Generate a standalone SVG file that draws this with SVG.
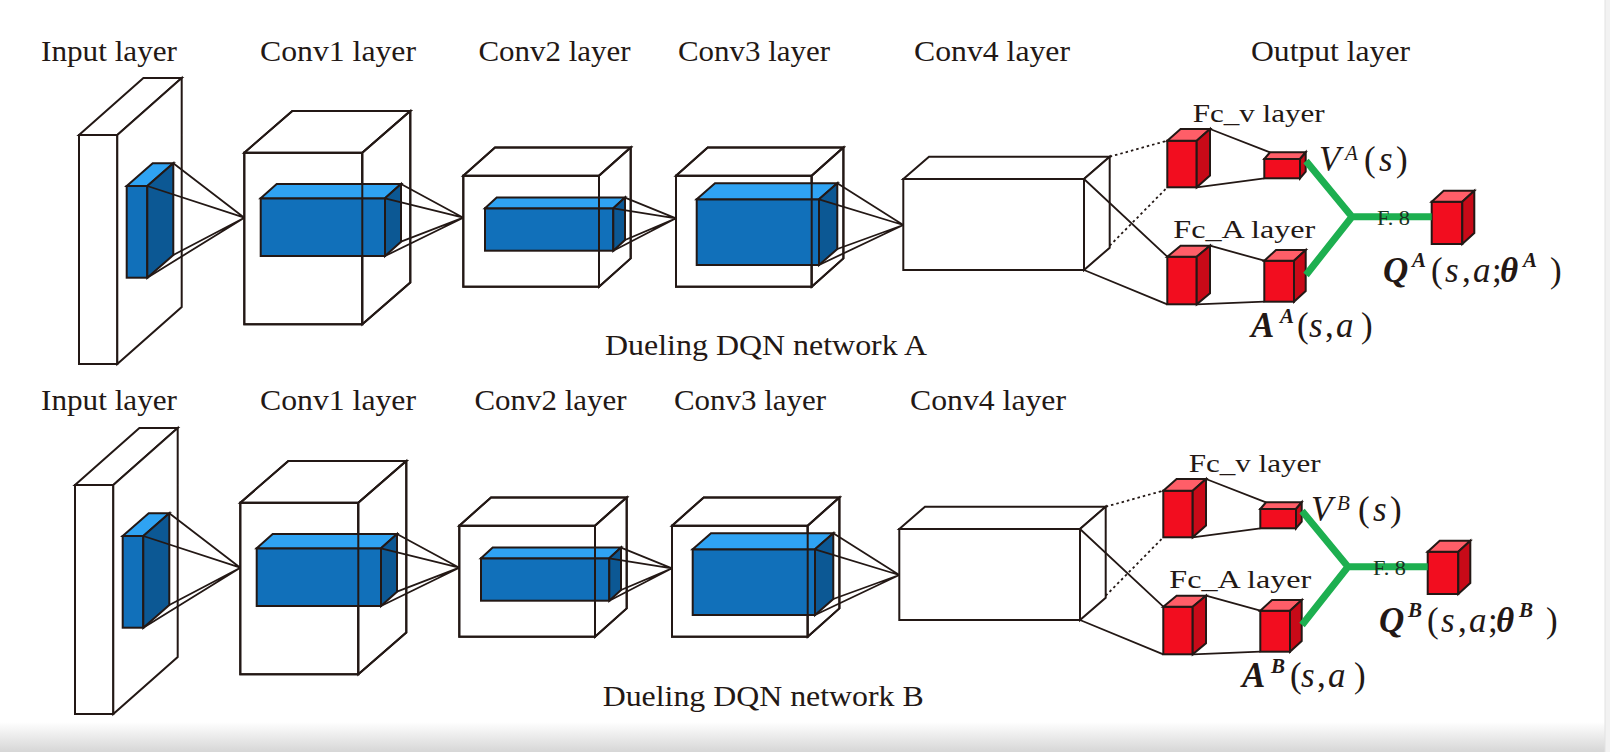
<svg xmlns="http://www.w3.org/2000/svg" width="1610" height="752" viewBox="0 0 1610 752">
<style>
.wf{fill:#fff;stroke:#231815;stroke-width:2;stroke-linejoin:miter}
.ed{fill:none;stroke:#231815;stroke-width:2;stroke-linejoin:miter}
.ln{fill:none;stroke:#231815;stroke-width:1.8}
.dt{fill:none;stroke:#231815;stroke-width:1.8;stroke-dasharray:2.5 3}
.bf{fill:#1170BA;stroke:#231815;stroke-width:2}
.bt{fill:#2FA3F3;stroke:#231815;stroke-width:2}
.bs{fill:#0C5894;stroke:#231815;stroke-width:2}
.rf{fill:#F20D1F;stroke:#231815;stroke-width:2}
.rt{fill:#FF5E68;stroke:#231815;stroke-width:2}
.rs{fill:#C80A18;stroke:#231815;stroke-width:2}
.gr{fill:none;stroke:#1DAF50;stroke-width:7;stroke-linejoin:miter}
.t{font-family:"Liberation Serif","Times New Roman",serif;fill:#231815}
.lb{font-size:29px}
.fc{font-size:25px}
.m{font-size:35px}
.sp{font-size:21px}
.i{font-style:italic}
.bi{font-style:italic;font-weight:bold}
.f8{font-family:"Liberation Serif","Times New Roman",serif;font-size:20px;fill:#1A3322}
</style>
<defs>
<linearGradient id="shade" x1="0" y1="0" x2="0" y2="1">
<stop offset="0" stop-color="#ffffff"/>
<stop offset="1" stop-color="#d6d6d6"/>
</linearGradient>
</defs>
<rect x="0" y="0" width="1610" height="752" fill="#ffffff"/>
<rect x="0" y="722" width="1605" height="30" fill="url(#shade)"/>
<rect x="1605" y="0" width="5" height="752" fill="#f2f2f2"/>
<line x1="1605" y1="0" x2="1605" y2="752" stroke="#e2e2e2" stroke-width="1"/>

<!-- ================= NETWORK A ================= -->
<g id="netA">
  <g id="A-labels" class="t lb">
    <text x="41" y="60.5" textLength="136" lengthAdjust="spacingAndGlyphs">Input layer</text>
    <text x="260" y="60.5" textLength="156" lengthAdjust="spacingAndGlyphs">Conv1 layer</text>
    <text x="478.5" y="60.5" textLength="152" lengthAdjust="spacingAndGlyphs">Conv2 layer</text>
    <text x="678" y="60.5" textLength="152" lengthAdjust="spacingAndGlyphs">Conv3 layer</text>
    <text x="914" y="60.5" textLength="156" lengthAdjust="spacingAndGlyphs">Conv4 layer</text>
    <text x="1251" y="60.5" textLength="159" lengthAdjust="spacingAndGlyphs">Output layer</text>
  </g>
  <g id="A-input">
    <rect class="wf" x="79" y="135" width="38.3" height="229"/>
    <polygon class="wf" points="79,135 143.4,78 181.7,78 117.3,135"/>
    <polygon class="wf" points="117.3,135 181.7,78 181.7,307 117.3,364"/>
    <rect class="bf" x="126.7" y="186" width="20.6" height="91.7"/>
    <polygon class="bt" points="126.7,186 152.7,163.3 173.3,163.3 147.3,186"/>
    <polygon class="bs" points="147.3,186 173.3,163.3 173.3,255 147.3,277.7"/>
  </g>
  <g id="A-conv1">
    <rect class="wf" x="244.3" y="152.7" width="118" height="171.6"/>
    <polygon class="wf" points="244.3,152.7 292.3,111 410.3,111 362.3,152.7"/>
    <polygon class="wf" points="362.3,152.7 410.3,111 410.3,282.6 362.3,324.3"/>
    <rect class="bf" x="260.7" y="198.3" width="124.3" height="57.7"/>
    <polygon class="bt" points="260.7,198.3 276.7,184 401,184 385,198.3"/>
    <polygon class="bs" points="385,198.3 401,184 401,241.7 385,256"/>
    <path class="ed" d="M244.3,152.7 H362.3 V324.3 H244.3 Z M244.3,152.7 L292.3,111 H410.3 L362.3,152.7 M410.3,111 V282.6 L362.3,324.3"/>
  </g>
  <g id="A-conv2">
    <rect class="wf" x="463.3" y="175.7" width="135.7" height="111"/>
    <polygon class="wf" points="463.3,175.7 495,147.4 630.7,147.4 599,175.7"/>
    <polygon class="wf" points="599,175.7 630.7,147.4 630.7,258.4 599,286.7"/>
    <rect class="bf" x="485" y="208.3" width="128.3" height="42.4"/>
    <polygon class="bt" points="485,208.3 496.7,197.6 625,197.6 613.3,208.3"/>
    <polygon class="bs" points="613.3,208.3 625,197.6 625,240 613.3,250.7"/>
    <path class="ed" d="M463.3,175.7 H599 V286.7 H463.3 Z M463.3,175.7 L495,147.4 H630.7 L599,175.7 M630.7,147.4 V258.4 L599,286.7"/>
  </g>
  <g id="A-conv3">
    <rect class="wf" x="676" y="175.7" width="135.7" height="111"/>
    <polygon class="wf" points="676,175.7 707.7,147.4 843.4,147.4 811.7,175.7"/>
    <polygon class="wf" points="811.7,175.7 843.4,147.4 843.4,258.4 811.7,286.7"/>
    <rect class="bf" x="696.7" y="199.3" width="122.3" height="65.7"/>
    <polygon class="bt" points="696.7,199.3 715,183.3 837.3,183.3 819,199.3"/>
    <polygon class="bs" points="819,199.3 837.3,183.3 837.3,249 819,265"/>
    <path class="ed" d="M676,175.7 H811.7 V286.7 H676 Z M676,175.7 L707.7,147.4 H843.4 L811.7,175.7 M843.4,147.4 V258.4 L811.7,286.7"/>
  </g>
  <g id="A-conv4">
    <rect class="wf" x="903.3" y="179" width="180.7" height="91"/>
    <polygon class="wf" points="903.3,179 929,156.7 1109.7,156.7 1084,179"/>
    <polygon class="wf" points="1084,179 1109.7,156.7 1109.7,247.7 1084,270"/>
  </g>
  <g id="A-fcv1">
    <rect class="rf" x="1167.3" y="140.7" width="29.4" height="46.6"/>
    <polygon class="rt" points="1167.3,140.7 1180.6,129 1210,129 1196.7,140.7"/>
    <polygon class="rs" points="1196.7,140.7 1210,129 1210,175.6 1196.7,187.3"/>
  </g>
  <g id="A-fcv2">
    <rect class="rf" x="1264.3" y="159" width="35.7" height="19.3"/>
    <polygon class="rt" points="1264.3,159 1270,152.3 1305.7,152.3 1300,159"/>
    <polygon class="rs" points="1300,159 1305.7,152.3 1305.7,171.6 1300,178.3"/>
  </g>
  <g id="A-fca1">
    <rect class="rf" x="1167.3" y="256.7" width="29.4" height="47.6"/>
    <polygon class="rt" points="1167.3,256.7 1180.6,245.7 1210,245.7 1196.7,256.7"/>
    <polygon class="rs" points="1196.7,256.7 1210,245.7 1210,293.3 1196.7,304.3"/>
  </g>
  <g id="A-fca2">
    <rect class="rf" x="1264.3" y="260.7" width="29.7" height="41"/>
    <polygon class="rt" points="1264.3,260.7 1276,250 1305.7,250 1294,260.7"/>
    <polygon class="rs" points="1294,260.7 1305.7,250 1305.7,291 1294,301.7"/>
  </g>
  <g id="A-q">
    <rect class="rf" x="1431.7" y="201.7" width="30.6" height="42.3"/>
    <polygon class="rt" points="1431.7,201.7 1443.7,190.7 1474.3,190.7 1462.3,201.7"/>
    <polygon class="rs" points="1462.3,201.7 1474.3,190.7 1474.3,233 1462.3,244"/>
  </g>
  <g id="A-connectors">
    <path class="ln" d="M173.3,163.3 L244.3,217.7 M147.3,186 L244.3,217.7 M147.3,277.7 L244.3,217.7 M173.3,255 L244.3,217.7"/>
    <path class="ln" d="M401,184 L463.3,217.7 M385,198.3 L463.3,217.7 M385,256 L463.3,217.7 M401,241.7 L463.3,217.7"/>
    <path class="ln" d="M625,197.6 L676,218.3 M613.3,208.3 L676,218.3 M613.3,250.7 L676,218.3 M625,240 L676,218.3"/>
    <path class="ln" d="M837.3,183.3 L903.3,225 M819,199.3 L903.3,225 M819,265 L903.3,225 M837.3,249 L903.3,225"/>
    <path class="dt" d="M1109.7,156.7 L1167.3,140.7 M1109.7,245.7 L1167.3,187.3"/>
    <path class="ln" d="M1084,179 L1167.3,256.7 M1084,270 L1167.3,304.3"/>
    <path class="ln" d="M1210,129 L1270,152.3 M1196.7,187.3 L1264.3,178.3 M1210,245.7 L1264.3,260.7 M1196.7,304.3 L1264.3,301.7"/>
    <path class="gr" d="M1306,161 L1352,216.7 L1306,275 M1352,216.7 L1431.7,216.7"/>
    <text class="f8" x="1377" y="224.5" textLength="33" lengthAdjust="spacingAndGlyphs">F. 8</text>
  </g>
  <g id="A-texts" class="t">
    <text class="fc" x="1192.7" y="121.7" textLength="132" lengthAdjust="spacingAndGlyphs">Fc_v layer</text>
    <text class="fc" x="1173.3" y="238.3" textLength="142" lengthAdjust="spacingAndGlyphs">Fc_A layer</text>
    <text class="m" y="171"><tspan class="i" x="1319">V</tspan><tspan class="sp i" x="1345" y="160">A</tspan><tspan x="1364" y="171">(</tspan><tspan class="i" x="1379">s</tspan><tspan x="1396">)</tspan></text>
    <text class="m" y="336.7"><tspan class="bi" x="1251">A</tspan><tspan class="sp bi" x="1280" y="323">A</tspan><tspan x="1297" y="336.7">(</tspan><tspan class="i" x="1309">s</tspan><tspan x="1325">,</tspan><tspan class="i" x="1336">a</tspan><tspan x="1361">)</tspan></text>
    <text class="m" y="281.7"><tspan class="bi" x="1383">Q</tspan><tspan class="sp bi" x="1412" y="267">A</tspan><tspan x="1431" y="281.7">(</tspan><tspan class="i" x="1445">s</tspan><tspan x="1462">,</tspan><tspan class="i" x="1473">a</tspan><tspan x="1492">;</tspan><tspan class="bi" x="1500">θ</tspan><tspan class="sp bi" x="1523" y="267">A</tspan><tspan x="1550" y="281.7">)</tspan></text>
    <text class="lb" x="605" y="355" textLength="322" lengthAdjust="spacingAndGlyphs" style="font-size:30px">Dueling DQN network A</text>
  </g>
</g>

<!-- ================= NETWORK B ================= -->
<g id="netB" transform="translate(-4,350)">
  <g id="B-labels" class="t lb">
    <text x="45" y="59.5" textLength="136" lengthAdjust="spacingAndGlyphs">Input layer</text>
    <text x="264" y="59.5" textLength="156" lengthAdjust="spacingAndGlyphs">Conv1 layer</text>
    <text x="478.5" y="59.5" textLength="152" lengthAdjust="spacingAndGlyphs">Conv2 layer</text>
    <text x="678" y="59.5" textLength="152" lengthAdjust="spacingAndGlyphs">Conv3 layer</text>
    <text x="914" y="59.5" textLength="156" lengthAdjust="spacingAndGlyphs">Conv4 layer</text>
  </g>
  <g id="B-input">
    <rect class="wf" x="79" y="135" width="38.3" height="229"/>
    <polygon class="wf" points="79,135 143.4,78 181.7,78 117.3,135"/>
    <polygon class="wf" points="117.3,135 181.7,78 181.7,307 117.3,364"/>
    <rect class="bf" x="126.7" y="186" width="20.6" height="91.7"/>
    <polygon class="bt" points="126.7,186 152.7,163.3 173.3,163.3 147.3,186"/>
    <polygon class="bs" points="147.3,186 173.3,163.3 173.3,255 147.3,277.7"/>
  </g>
  <g id="B-conv1">
    <rect class="wf" x="244.3" y="152.7" width="118" height="171.6"/>
    <polygon class="wf" points="244.3,152.7 292.3,111 410.3,111 362.3,152.7"/>
    <polygon class="wf" points="362.3,152.7 410.3,111 410.3,282.6 362.3,324.3"/>
    <rect class="bf" x="260.7" y="198.3" width="124.3" height="57.7"/>
    <polygon class="bt" points="260.7,198.3 276.7,184 401,184 385,198.3"/>
    <polygon class="bs" points="385,198.3 401,184 401,241.7 385,256"/>
    <path class="ed" d="M244.3,152.7 H362.3 V324.3 H244.3 Z M244.3,152.7 L292.3,111 H410.3 L362.3,152.7 M410.3,111 V282.6 L362.3,324.3"/>
  </g>
  <g id="B-conv2">
    <rect class="wf" x="463.3" y="175.7" width="135.7" height="111"/>
    <polygon class="wf" points="463.3,175.7 495,147.4 630.7,147.4 599,175.7"/>
    <polygon class="wf" points="599,175.7 630.7,147.4 630.7,258.4 599,286.7"/>
    <rect class="bf" x="485" y="208.3" width="128.3" height="42.4"/>
    <polygon class="bt" points="485,208.3 496.7,197.6 625,197.6 613.3,208.3"/>
    <polygon class="bs" points="613.3,208.3 625,197.6 625,240 613.3,250.7"/>
    <path class="ed" d="M463.3,175.7 H599 V286.7 H463.3 Z M463.3,175.7 L495,147.4 H630.7 L599,175.7 M630.7,147.4 V258.4 L599,286.7"/>
  </g>
  <g id="B-conv3">
    <rect class="wf" x="676" y="175.7" width="135.7" height="111"/>
    <polygon class="wf" points="676,175.7 707.7,147.4 843.4,147.4 811.7,175.7"/>
    <polygon class="wf" points="811.7,175.7 843.4,147.4 843.4,258.4 811.7,286.7"/>
    <rect class="bf" x="696.7" y="199.3" width="122.3" height="65.7"/>
    <polygon class="bt" points="696.7,199.3 715,183.3 837.3,183.3 819,199.3"/>
    <polygon class="bs" points="819,199.3 837.3,183.3 837.3,249 819,265"/>
    <path class="ed" d="M676,175.7 H811.7 V286.7 H676 Z M676,175.7 L707.7,147.4 H843.4 L811.7,175.7 M843.4,147.4 V258.4 L811.7,286.7"/>
  </g>
  <g id="B-conv4">
    <rect class="wf" x="903.3" y="179" width="180.7" height="91"/>
    <polygon class="wf" points="903.3,179 929,156.7 1109.7,156.7 1084,179"/>
    <polygon class="wf" points="1084,179 1109.7,156.7 1109.7,247.7 1084,270"/>
  </g>
  <g id="B-fcv1">
    <rect class="rf" x="1167.3" y="140.7" width="29.4" height="46.6"/>
    <polygon class="rt" points="1167.3,140.7 1180.6,129 1210,129 1196.7,140.7"/>
    <polygon class="rs" points="1196.7,140.7 1210,129 1210,175.6 1196.7,187.3"/>
  </g>
  <g id="B-fcv2">
    <rect class="rf" x="1264.3" y="159" width="35.7" height="19.3"/>
    <polygon class="rt" points="1264.3,159 1270,152.3 1305.7,152.3 1300,159"/>
    <polygon class="rs" points="1300,159 1305.7,152.3 1305.7,171.6 1300,178.3"/>
  </g>
  <g id="B-fca1">
    <rect class="rf" x="1167.3" y="256.7" width="29.4" height="47.6"/>
    <polygon class="rt" points="1167.3,256.7 1180.6,245.7 1210,245.7 1196.7,256.7"/>
    <polygon class="rs" points="1196.7,256.7 1210,245.7 1210,293.3 1196.7,304.3"/>
  </g>
  <g id="B-fca2">
    <rect class="rf" x="1264.3" y="260.7" width="29.7" height="41"/>
    <polygon class="rt" points="1264.3,260.7 1276,250 1305.7,250 1294,260.7"/>
    <polygon class="rs" points="1294,260.7 1305.7,250 1305.7,291 1294,301.7"/>
  </g>
  <g id="B-q">
    <rect class="rf" x="1431.7" y="201.7" width="30.6" height="42.3"/>
    <polygon class="rt" points="1431.7,201.7 1443.7,190.7 1474.3,190.7 1462.3,201.7"/>
    <polygon class="rs" points="1462.3,201.7 1474.3,190.7 1474.3,233 1462.3,244"/>
  </g>
  <g id="B-connectors">
    <path class="ln" d="M173.3,163.3 L244.3,217.7 M147.3,186 L244.3,217.7 M147.3,277.7 L244.3,217.7 M173.3,255 L244.3,217.7"/>
    <path class="ln" d="M401,184 L463.3,217.7 M385,198.3 L463.3,217.7 M385,256 L463.3,217.7 M401,241.7 L463.3,217.7"/>
    <path class="ln" d="M625,197.6 L676,218.3 M613.3,208.3 L676,218.3 M613.3,250.7 L676,218.3 M625,240 L676,218.3"/>
    <path class="ln" d="M837.3,183.3 L903.3,225 M819,199.3 L903.3,225 M819,265 L903.3,225 M837.3,249 L903.3,225"/>
    <path class="dt" d="M1109.7,156.7 L1167.3,140.7 M1109.7,245.7 L1167.3,187.3"/>
    <path class="ln" d="M1084,179 L1167.3,256.7 M1084,270 L1167.3,304.3"/>
    <path class="ln" d="M1210,129 L1270,152.3 M1196.7,187.3 L1264.3,178.3 M1210,245.7 L1264.3,260.7 M1196.7,304.3 L1264.3,301.7"/>
    <path class="gr" d="M1306,161 L1352,216.7 L1306,275 M1352,216.7 L1431.7,216.7"/>
    <text class="f8" x="1377" y="224.5" textLength="33" lengthAdjust="spacingAndGlyphs">F. 8</text>
  </g>
  <g id="B-texts" class="t">
    <text class="fc" x="1192.7" y="121.7" textLength="132" lengthAdjust="spacingAndGlyphs">Fc_v layer</text>
    <text class="fc" x="1173.3" y="238.3" textLength="142" lengthAdjust="spacingAndGlyphs">Fc_A layer</text>
    <text class="m" y="171"><tspan class="i" x="1315">V</tspan><tspan class="sp i" x="1341" y="160">B</tspan><tspan x="1362" y="171">(</tspan><tspan class="i" x="1377">s</tspan><tspan x="1394">)</tspan></text>
    <text class="m" y="336.7"><tspan class="bi" x="1246">A</tspan><tspan class="sp bi" x="1275" y="323">B</tspan><tspan x="1294" y="336.7">(</tspan><tspan class="i" x="1305">s</tspan><tspan x="1321">,</tspan><tspan class="i" x="1332">a</tspan><tspan x="1358">)</tspan></text>
    <text class="m" y="281.7"><tspan class="bi" x="1383">Q</tspan><tspan class="sp bi" x="1412" y="267">B</tspan><tspan x="1431" y="281.7">(</tspan><tspan class="i" x="1445">s</tspan><tspan x="1462">,</tspan><tspan class="i" x="1473">a</tspan><tspan x="1492">;</tspan><tspan class="bi" x="1500">θ</tspan><tspan class="sp bi" x="1523" y="267">B</tspan><tspan x="1550" y="281.7">)</tspan></text>
    <text class="lb" x="606.7" y="355.5" textLength="321" lengthAdjust="spacingAndGlyphs" style="font-size:30px">Dueling DQN network B</text>
  </g>
</g>
</svg>
